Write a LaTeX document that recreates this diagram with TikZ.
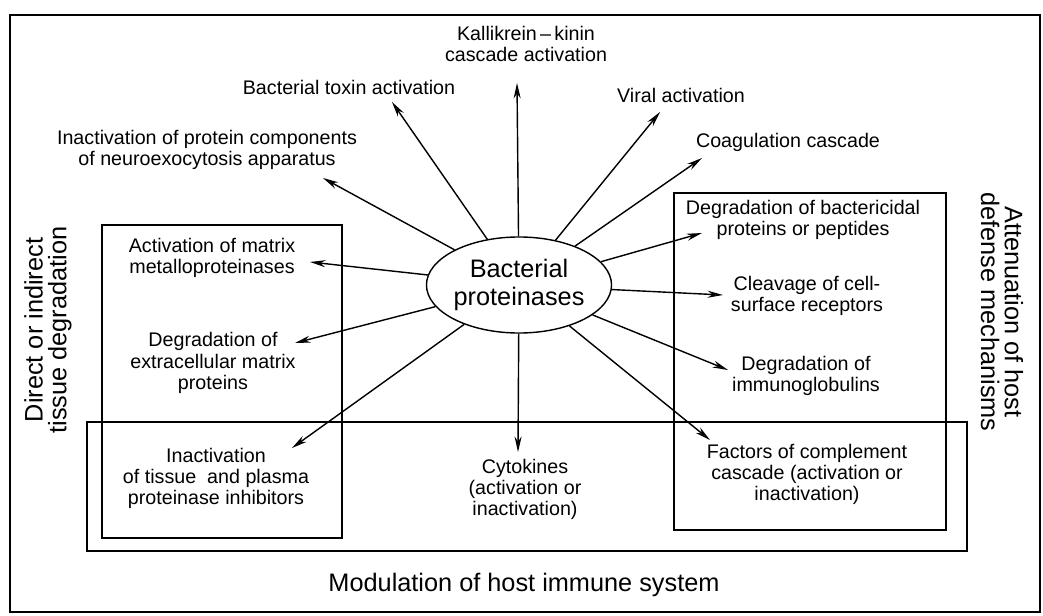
\documentclass[tikz,border=0pt]{standalone}
\usepackage{fontspec}
\setmainfont{Liberation Sans}
\usetikzlibrary{shapes.geometric,arrows.meta}

\tikzset{
  lbl/.style={align=center,font=\fontsize{14}{15}\selectfont,inner sep=1pt},
  big/.style={align=center,font=\fontsize{18}{17}\selectfont,inner sep=1pt},
  region/.style={line width=0.9pt},
  arr/.style={line width=1pt,-{Stealth[length=11pt,width=5pt,fill=gray!70]}},
}

\begin{document}
\begin{tikzpicture}[x=0.025cm,y=-0.025cm]
\useasboundingbox (0,0) rectangle (1043,616);
% frame and the three regions
\draw[line width=1pt] (10,15) rectangle (1040,612);
\draw[region] (102,225) rectangle (342,538);
\draw[region] (674,193) rectangle (946,530);
\draw[region] (87,422) rectangle (967,551);

% centre
\node[ellipse,draw,line width=1pt,inner sep=0pt,minimum width=4.45cm,minimum height=2.4cm,
      font=\fontsize{18}{20}\selectfont,align=center] (bp) at (519,285) {Bacterial\\proteinases};

% region titles
\node[big,rotate=90] (dir) at (48,330) {Direct or indirect\\tissue degradation};
\node[big,rotate=-90] (att) at (1002,312) {Attenuation of host\\defense mechanisms};
\node[big] (mod) at (524,585) {Modulation of host immune system};

% targets
\node[lbl] (kk) at (526,44) {Kallikrein\,--\,kinin\\cascade activation};
\node[lbl] (tox) at (349,87) {Bacterial toxin activation};
\node[lbl] (vir) at (681,95) {Viral activation};
\node[lbl] (coag) at (788,142) {Coagulation cascade};
\node[lbl] (neuro) at (207,150) {Inactivation of protein components\\of neuroexocytosis apparatus};
\node[lbl] (mmp) at (212,258) {Activation of matrix\\metalloproteinases};
\node[lbl] (ecm) at (213,363) {Degradation of\\extracellular matrix\\proteins};
\node[lbl] (inh) at (216,478) {Inactivation\\of tissue\ \ and plasma\\proteinase inhibitors};
\node[lbl] (cyt) at (525,489) {Cytokines\\(activation or\\inactivation)};
\node[lbl] (bact) at (803,220) {Degradation of bactericidal\\proteins or peptides};
\node[lbl] (clv) at (807,296) {Cleavage of cell-\\surface receptors};
\node[lbl] (ig) at (806,376) {Degradation of\\immunoglobulins};
\node[lbl] (cmp) at (807,474) {Factors of complement\\cascade (activation or\\inactivation)};

% arrow heads
\coordinate (kk-tip) at (517,83);
\coordinate (tox-tip) at (392,102);
\coordinate (vir-tip) at (660,112);
\coordinate (coag-tip) at (702,158);
\coordinate (neuro-tip) at (323,178);
\coordinate (mmp-tip) at (310,262);
\coordinate (ecm-tip) at (295,343);
\coordinate (inh-tip) at (292,448);
\coordinate (cyt-tip) at (518,452);
\coordinate (bact-tip) at (702,233);
\coordinate (clv-tip) at (723,295);
\coordinate (ig-tip) at (728,370);
\coordinate (cmp-tip) at (710,440);

\foreach \t in {kk,tox,vir,coag,neuro,mmp,ecm,inh,cyt,bact,clv,ig,cmp}
  \draw[arr] (bp) -- (\t-tip);
\end{tikzpicture}
\end{document}
